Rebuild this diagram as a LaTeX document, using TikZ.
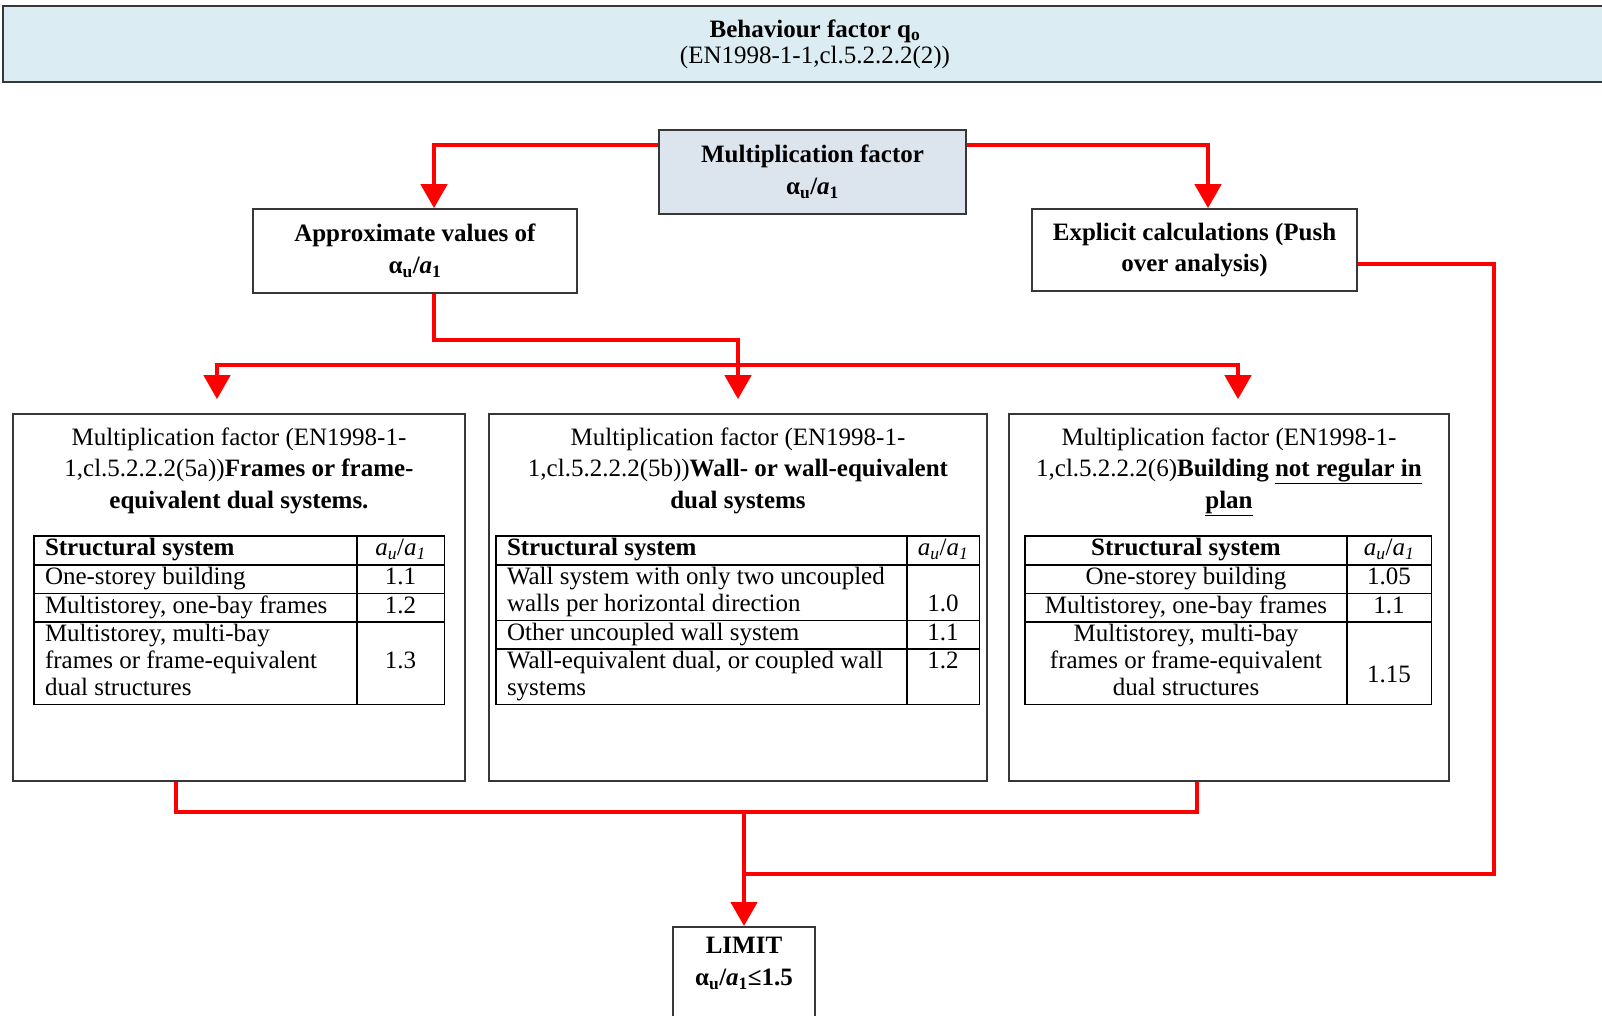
\documentclass[tikz,border=0pt]{standalone}
\usepackage{fontspec}
\setmainfont{Liberation Serif}
\usepackage{array}
\usetikzlibrary{arrows.meta,positioning}
\definecolor{headblue}{RGB}{219,236,242}
\definecolor{multblue}{RGB}{220,228,238}
\definecolor{boxline}{RGB}{55,55,55}
\newcolumntype{L}[1]{>{\raggedright\arraybackslash}m{#1}}
\newcolumntype{C}[1]{>{\centering\arraybackslash}m{#1}}
\newcommand{\aratio}{α\textsubscript{u}/\textit{a}\textsubscript{1}}
\newcommand{\tabratio}{\textit{a}\textsubscript{\textit{u}}/\textit{a}\textsubscript{\textit{1}}}
\newcommand{\tabsetup}{\setlength{\arrayrulewidth}{1.6pt}\setlength{\tabcolsep}{10pt}\renewcommand{\arraystretch}{1.0}}

\begin{document}
\begin{tikzpicture}[x=1pt,y=-1pt,>={Triangle[width=26pt,length=24pt]},
  box/.style={draw=boxline,line width=1.6pt,inner sep=0pt,align=center,font=\fontsize{25}{31.7}\selectfont},
  bigbox/.style={draw=boxline,line width=1.6pt,minimum height=367pt},
  flow/.style={draw=red,line width=4.5pt},
  ttl/.style={inner sep=0pt,align=center,font=\fontsize{25}{31.7}\selectfont},
  tbl/.style={inner sep=0pt,font=\fontsize{25}{27}\selectfont}]
\useasboundingbox (0,0) rectangle (1602,1016);

% boxes
\node [box, fill=headblue, minimum width=1624pt, minimum height=76pt, font=\fontsize{25}{26}\selectfont] (qfactor) at (815,44)
  {\textbf{Behaviour factor q\textsubscript{o}}\\(EN1998-1-1,cl.5.2.2.2(2))};
\node [box, fill=multblue, minimum width=307pt, minimum height=84pt] (mult) at (812.5,172)
  {\textbf{Multiplication factor}\\\textbf{\aratio}};
\node [box, minimum width=324pt, minimum height=84pt] (approx) at (415,251)
  {\textbf{Approximate values of}\\\textbf{\aratio}};
\node [box, minimum width=325pt, minimum height=82pt] (explicit) at (1194.5,250)
  {\textbf{Explicit calculations (Push}\\\textbf{over analysis)}};

\node [bigbox, minimum width=452pt] (frames) at (239,597.5) {};
\node [bigbox, minimum width=498pt] (walls) at (738,597.5) {};
\node [bigbox, minimum width=440pt] (irreg) at (1229,597.5) {};

\node [box, minimum width=142pt, minimum height=130pt, anchor=north] (limit) at (744,926) {};
\node [ttl] (limittxt) at (744,963.5) {\textbf{LIMIT}\\\textbf{\aratio≤1.5}};

% titles of the three cases
\node [ttl, below=14pt of frames.north] (framesttl)
  {Multiplication factor (EN1998-1-\\1,cl.5.2.2.2(5a))\textbf{Frames or frame-}\\\textbf{equivalent dual systems.}};
\node [ttl, below=14pt of walls.north] (wallsttl)
  {Multiplication factor (EN1998-1-\\1,cl.5.2.2.2(5b))\textbf{Wall- or wall-equivalent}\\\textbf{dual systems}};
\node [ttl, below=14pt of irreg.north] (irregttl)
  {Multiplication factor (EN1998-1-\\1,cl.5.2.2.2(6)\textbf{Building \underline{not regular in}}\\\textbf{\underline{plan}}};

% tables
\node [tbl, below right=122pt and 21pt of frames.north west] (framestab) {\tabsetup
\begin{tabular}{|L{301pt}|C{66pt}|}\hline
\textbf{Structural system} & \tabratio\\\hline
One-storey building & 1.1\\\hline
Multistorey, one-bay frames & 1.2\\\hline
Multistorey, multi-bay\par frames or frame-equivalent\par dual structures & 1.3\\\hline
\end{tabular}};
\node [tbl, below right=122pt and 7pt of walls.north west] (wallstab) {\tabsetup
\begin{tabular}{|L{389pt}|C{51pt}|}\hline
\textbf{Structural system} & \tabratio\\\hline
Wall system with only two uncoupled\par walls per horizontal direction & \mbox{}\par 1.0\\\hline
Other uncoupled wall system & 1.1\\\hline
Wall-equivalent dual, or coupled wall\par systems & 1.2\par\mbox{}\\\hline
\end{tabular}};
\node [tbl, below right=122pt and 16pt of irreg.north west] (irregtab) {\tabsetup
\begin{tabular}{|C{300pt}|C{63pt}|}\hline
\textbf{Structural system} & \tabratio\\\hline
One-storey building & 1.05\\\hline
Multistorey, one-bay frames & 1.1\\\hline
Multistorey, multi-bay\par frames or frame-equivalent\par dual structures & \mbox{}\par 1.15\\\hline
\end{tabular}};

% connectors
\coordinate (merge) at (744,812);
\coordinate (rail) at (1494,874);
\draw [flow,->] ([yshift=27pt]mult.west) -| ([xshift=19pt]approx.north);
\draw [flow,->] ([yshift=27pt]mult.east) -| ([xshift=13.5pt]explicit.north);
\draw [flow,->,shorten >=14pt] ([xshift=19pt]approx.south) -- ++(0,46) -| (walls.north);
\draw [flow,<->,shorten <=14pt,shorten >=14pt] ([xshift=-22pt]frames.north) -- ++(0,-48) -| ([xshift=9pt]irreg.north);
\draw [flow] ([xshift=-63pt]frames.south) |- (merge) -| ([xshift=-32pt]irreg.south);
\draw [flow,->] (merge) -- (limit.north);
\draw [flow] ([yshift=-14pt]explicit.east) -| (rail) -- (rail -| limit.north);
\end{tikzpicture}
\end{document}
